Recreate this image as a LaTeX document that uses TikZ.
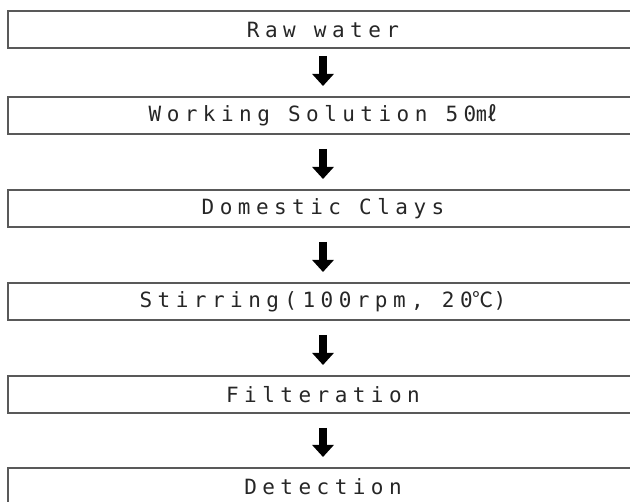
\documentclass[tikz,border=0pt]{standalone}
\usepackage{fontspec}
\setmainfont{DejaVu Sans Mono}[LetterSpace=26]
\newfontfamily\cjk{Noto Sans CJK KR}
\usetikzlibrary{positioning,arrows.meta}
\tikzset
{
    stepbox/.style = {rectangle, draw=black!65, line width=1.1pt, minimum width=630pt, minimum height=37pt, inner sep=0pt, outer sep=0pt, font=\fontsize{21}{23}\selectfont, text=black!85, anchor=north},
    arrow/.style   = {line width=8pt, -{Triangle[width=21pt,length=12pt]}, shorten <=15pt, shorten >=11pt}
}

\begin{document}
\begin{tikzpicture}
	\useasboundingbox (0,0) rectangle (630pt,-502pt);
	\node (raw) [stepbox] at (323pt,-11pt) {Raw water};
	\node (work) [stepbox, below=49pt of raw] {Working Solution 50{\cjk ㎖}};
	\node (clay) [stepbox, below=56pt of work] {Domestic Clays};
	\node (stir) [stepbox, below=56pt of clay] {Stirring(100rpm, 20{\cjk ℃})};
	\node (filt) [stepbox, below=56pt of stir] {Filteration};
	\node (detc) [stepbox, below=55pt of filt] {Detection};

	\draw [arrow, shorten <=8pt] (raw.south) -- (work.north);
	\draw [arrow] (work.south) -- (clay.north);
	\draw [arrow] (clay.south) -- (stir.north);
	\draw [arrow] (stir.south) -- (filt.north);
	\draw [arrow] (filt.south) -- (detc.north);

\end{tikzpicture}
\end{document}
